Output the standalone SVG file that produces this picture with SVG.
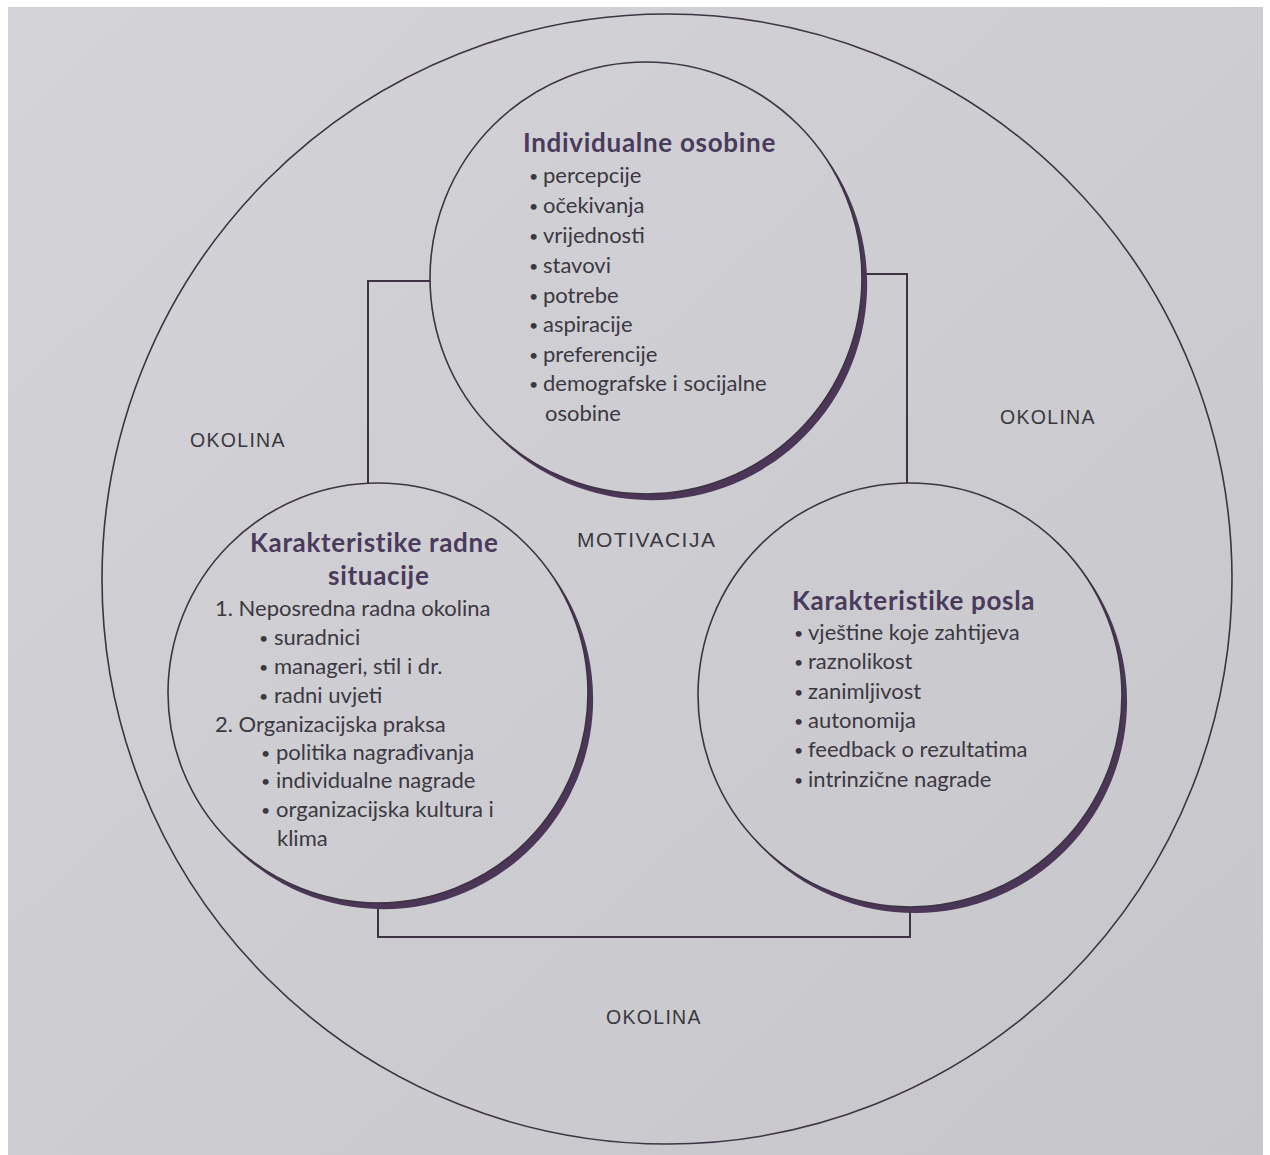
<svg xmlns="http://www.w3.org/2000/svg" width="1270" height="1155" viewBox="0 0 1270 1155">
<defs>
<linearGradient id="bg" x1="0" y1="0" x2="1" y2="1">
<stop offset="0" stop-color="#d4d3d8"/>
<stop offset="1" stop-color="#c7c6cb"/>
</linearGradient>
<style>
.line{fill:none;stroke:#3d3342;stroke-width:2}
.ring{fill:none;stroke:#3d3342;stroke-width:1.6}
.shade{fill:#4b3657;stroke:none}
.head{font-family:Lato,"Open Sans",sans-serif;font-weight:bold;font-size:26px;letter-spacing:0.7px;fill:#4a3a5c}
.body{font-family:Lato,"Open Sans",sans-serif;font-size:22px;fill:#3c3842}
.b{font-size:16px}
.lab{font-family:"Liberation Sans",Arial,sans-serif;font-size:19.5px;letter-spacing:1.3px;fill:#3a383e}
</style>
</defs>
<rect width="1270" height="1155" fill="#ffffff"/>
<rect x="8" y="7" width="1255" height="1148" fill="url(#bg)"/>

<g id="okolina">
<circle class="ring" cx="667" cy="579" r="565"/>
<text class="lab" x="190" y="447">OKOLINA</text>
<text class="lab" x="1000" y="424">OKOLINA</text>
<text class="lab" x="606" y="1024">OKOLINA</text>
</g>

<g id="connectors">
<path class="line" d="M368,483 V281 H430"/>
<path class="line" d="M866,274 H907 V483"/>
<path class="line" d="M378,908 V937 H910 V912"/>
</g>

<g id="motivacija">
<text class="lab" x="577" y="547" style="font-size:21px;letter-spacing:1.5px">MOTIVACIJA</text>
</g>

<g id="individualne-osobine">
<path class="shade" d="M814.40,142.74 A216,216 0 1 1 482.60,419.26 A216,216 0 0 0 814.40,142.74 Z"/>
<circle class="ring" cx="646" cy="278" r="216"/>
<text class="head" x="523" y="152">Individualne osobine</text>
<g class="body">
<text class="b" x="529" y="182">•</text><text x="543" y="183">percepcije</text>
<text class="b" x="529" y="212">•</text><text x="543" y="213">očekivanja</text>
<text class="b" x="529" y="242">•</text><text x="543" y="243">vrijednosti</text>
<text class="b" x="529" y="272">•</text><text x="543" y="273">stavovi</text>
<text class="b" x="529" y="302">•</text><text x="543" y="303">potrebe</text>
<text class="b" x="529" y="331">•</text><text x="543" y="332">aspiracije</text>
<text class="b" x="529" y="361">•</text><text x="543" y="362">preferencije</text>
<text class="b" x="529" y="390">•</text><text x="543" y="391">demografske i socijalne</text>
<text x="545" y="421">osobine</text>
</g>
</g>

<g id="radna-situacija">
<path class="shade" d="M541.79,561.58 A210,210 0 1 1 219.21,830.42 A210,210 0 0 0 541.79,561.58 Z"/>
<circle class="ring" cx="378" cy="693" r="210"/>
<text class="head" x="250" y="552">Karakteristike radne</text>
<text class="head" x="328" y="585">situacije</text>
<g class="body">
<text x="215" y="616">1. Neposredna radna okolina</text>
<text class="b" x="259" y="644">•</text><text x="274" y="645">suradnici</text>
<text class="b" x="259" y="673">•</text><text x="274" y="674">manageri, stil i dr.</text>
<text class="b" x="259" y="702">•</text><text x="274" y="703">radni uvjeti</text>
<text x="215" y="732">2. Organizacijska praksa</text>
<text class="b" x="261" y="759">•</text><text x="276" y="760">politika nagrađivanja</text>
<text class="b" x="261" y="787">•</text><text x="276" y="788">individualne nagrade</text>
<text class="b" x="261" y="816">•</text><text x="276" y="817">organizacijska kultura i</text>
<text x="277" y="846">klima</text>
</g>
</g>

<g id="karakteristike-posla">
<path class="shade" d="M1075.33,562.30 A212,212 0 1 1 749.67,833.70 A212,212 0 0 0 1075.33,562.30 Z"/>
<circle class="ring" cx="910" cy="695" r="212"/>
<text class="head" x="792" y="610">Karakteristike posla</text>
<g class="body">
<text class="b" x="794" y="639">•</text><text x="808" y="640">vještine koje zahtijeva</text>
<text class="b" x="794" y="668">•</text><text x="808" y="669">raznolikost</text>
<text class="b" x="794" y="698">•</text><text x="808" y="699">zanimljivost</text>
<text class="b" x="794" y="727">•</text><text x="808" y="728">autonomija</text>
<text class="b" x="794" y="756">•</text><text x="808" y="757">feedback o rezultatima</text>
<text class="b" x="794" y="786">•</text><text x="808" y="787">intrinzične nagrade</text>
</g>
</g>
</svg>
